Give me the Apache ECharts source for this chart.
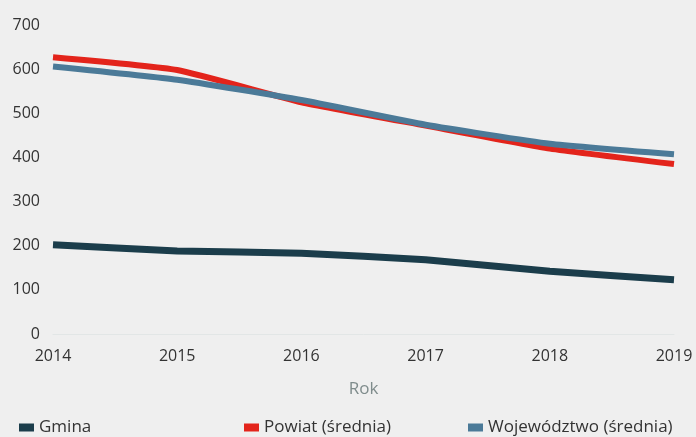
<!DOCTYPE html>
<html>
<head>
<meta charset="utf-8">
<script src="https://cdn.jsdelivr.net/npm/echarts@6/dist/echarts.min.js"></script>
<style>
  html, body { margin: 0; padding: 0; background: #efefef; }
  #chart { width: 696px; height: 437px; }
</style>
</head>
<body>
<div id="chart"></div>
<script>
// data
const years = ['2014', '2015', '2016', '2017', '2018', '2019']
const gmina = [202, 188, 183, 168, 142, 123]
const powiat = [627, 598, 525, 472, 420, 385]
const wojewodztwo = [606, 576, 530, 474, 431, 407]
const yTicks = [0, 100, 200, 300, 400, 500, 600, 700]

const font = '"Open Sans", sans-serif'

const chart = echarts.init(document.getElementById('chart'))

// one legend per item so each can sit where it sits in the original
const legendAt = (name, left) => ({
  data: [name],
  left: left,
  top: 414,
  itemWidth: 15,
  itemHeight: 8,
  icon: 'rect',
  textStyle: { fontFamily: font, fontSize: 17, color: '#333' }
})

chart.setOption({
  backgroundColor: '#efefef',
  animation: false,
  legend: [
    legendAt('Gmina', 14),
    legendAt('Powiat (średnia)', 239),
    legendAt('Województwo (średnia)', 463)
  ],
  grid: { left: 53, right: 22, top: 25, bottom: 103 },
  xAxis: {
    type: 'category',
    data: years,
    boundaryGap: false,
    name: 'Rok',
    nameLocation: 'middle',
    nameGap: 47,
    nameTextStyle: { fontFamily: font, fontSize: 17, color: '#7f8c8c' },
    axisLine: { lineStyle: { color: '#e2e6e6', width: 1 } },
    axisTick: { show: false },
    axisLabel: { fontFamily: font, fontSize: 16, color: '#333', margin: 14 }
  },
  yAxis: {
    type: 'value',
    min: yTicks[0],
    max: yTicks[yTicks.length - 1],
    interval: 100,
    axisLine: { show: false },
    axisTick: { show: false },
    splitLine: { show: false },
    axisLabel: { fontFamily: font, fontSize: 16, color: '#333', margin: 13 }
  },
  series: [
    {
      name: 'Gmina', type: 'line', data: gmina, showSymbol: false, smooth: 0.15,
      itemStyle: { color: '#1b3d4b' }, lineStyle: { width: 7, color: '#1b3d4b' }
    },
    {
      name: 'Powiat (średnia)', type: 'line', data: powiat, showSymbol: false, smooth: 0.15,
      itemStyle: { color: '#e3241b' }, lineStyle: { width: 6, color: '#e3241b' }
    },
    {
      name: 'Województwo (średnia)', type: 'line', data: wojewodztwo, showSymbol: false, smooth: 0.15,
      itemStyle: { color: '#4b7a98' }, lineStyle: { width: 6, color: '#4b7a98' }
    }
  ]
})
</script>
</body>
</html>
